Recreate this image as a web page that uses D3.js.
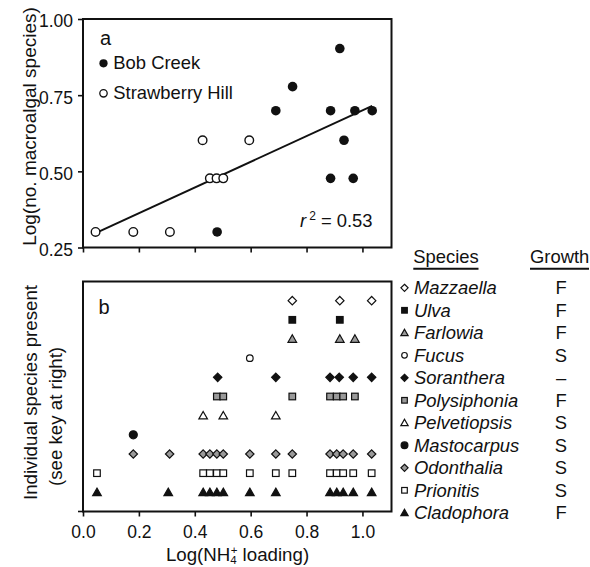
<!DOCTYPE html>
<html><head><meta charset="utf-8">
<script src="https://cdn.jsdelivr.net/npm/d3@7"></script>
<style>
body{margin:0;background:#fff;}
svg{display:block;font-family:"Liberation Sans",Arial,sans-serif;}
</style></head>
<body><svg id="c" width="590" height="567"></svg>
<script>
// ---------- Data ----------
// Panel a
const bobX = [0.48, 0.69, 0.75, 0.886, 0.919, 0.973, 1.035, 0.934, 0.886, 0.967];
const bobY = [0.301, 0.699, 0.778, 0.699, 0.903, 0.699, 0.699, 0.602, 0.477, 0.477];
const strawX = [0.045, 0.18, 0.311, 0.428, 0.595, 0.454, 0.478, 0.502];
const strawY = [0.301, 0.301, 0.301, 0.602, 0.602, 0.477, 0.477, 0.477];
const fitX = [0.045, 1.035];
const fitY = [0.297, 0.715];
const r2Label = "0.53";
const yTicksA = [0.25, 0.50, 0.75, 1.00];
const xTicks = [0.0, 0.2, 0.4, 0.6, 0.8, 1.0];

// Panel b: species (top to bottom), growth form, and sites where present
const species = ["Mazzaella","Ulva","Farlowia","Fucus","Soranthera","Polysiphonia","Pelvetiopsis","Mastocarpus","Odonthalia","Prionitis","Cladophora"];
const growth = ["F","F","F","S","\u2013","F","S","S","S","S","F"];
const presence = [
  [0.749, 0.919, 1.033],
  [0.749, 0.919],
  [0.749, 0.919, 0.973],
  [0.597],
  [0.482, 0.69, 0.884, 0.917, 0.967, 1.033],
  [0.479, 0.502, 0.749, 0.884, 0.908, 0.931, 0.973],
  [0.43, 0.502, 0.69],
  [0.18],
  [0.18, 0.31, 0.43, 0.454, 0.479, 0.502, 0.597, 0.69, 0.749, 0.884, 0.908, 0.931, 0.967, 1.033],
  [0.05, 0.43, 0.454, 0.479, 0.502, 0.597, 0.69, 0.749, 0.884, 0.908, 0.931, 0.967, 1.033],
  [0.05, 0.305, 0.43, 0.454, 0.479, 0.502, 0.597, 0.69, 0.884, 0.908, 0.931, 0.967, 1.033]
];

// ---------- Styles per species ----------
const INK = "#111";
const GRAY = "#9a9a9a";
const markStyle = {
  Mazzaella:   {shape:"diamond", fill:"#fff", stroke:INK},
  Ulva:        {shape:"square",  fill:INK,   stroke:INK},
  Farlowia:    {shape:"triangle",fill:GRAY,  stroke:INK},
  Fucus:       {shape:"circle",  fill:"#fff", stroke:INK},
  Soranthera:  {shape:"diamond", fill:INK,   stroke:INK},
  Polysiphonia:{shape:"square",  fill:GRAY,  stroke:INK},
  Pelvetiopsis:{shape:"triangle",fill:"#fff", stroke:INK},
  Mastocarpus: {shape:"circle",  fill:INK,   stroke:INK, big:true},
  Odonthalia:  {shape:"diamond", fill:GRAY,  stroke:INK},
  Prionitis:   {shape:"square",  fill:"#fff", stroke:INK},
  Cladophora:  {shape:"triangle",fill:INK,   stroke:INK}
};
function drawMark(g, st, x, y, k){
  k = k || 1;
  let el;
  if(st.shape==="circle"){
    el = g.append("circle").attr("cx",x).attr("cy",y).attr("r",(st.big?4:3.3)*k);
  } else if(st.shape==="square"){
    const s = 6.6*k;
    el = g.append("rect").attr("x",x-s/2).attr("y",y-s/2).attr("width",s).attr("height",s);
  } else if(st.shape==="diamond"){
    const h = 4.2*k;
    el = g.append("path").attr("d",`M${x},${y-h}L${x+h},${y}L${x},${y+h}L${x-h},${y}Z`);
  } else {
    const w = 4.3*k, t = 4.2*k, b = 3.3*k;
    el = g.append("path").attr("d",`M${x},${y-t}L${x+w},${y+b}L${x-w},${y+b}Z`);
  }
  el.attr("fill",st.fill).attr("stroke",st.stroke).attr("stroke-width",1.2);
}

// ---------- Layout ----------
const svg = d3.select("#c");
const X0 = 83, X1 = 391.5;
const A_TOP = 19, A_BOT = 247.5;
const B_TOP = 281.5, B_BOT = 511.5;
const x = d3.scaleLinear().domain([0, 1.104]).range([X0, X1]);
const yA = d3.scaleLinear().domain([0.25, 1.0]).range([A_BOT, A_TOP]);
const yB = d3.scaleLinear().domain([0, species.length + 1]).range([B_BOT, B_TOP]);

// ---------- Panel a ----------
const ga = svg.append("g");
const axAy = ga.append("g").attr("transform",`translate(${X0},0)`)
  .call(d3.axisLeft(yA).tickValues(yTicksA).tickFormat(d3.format(".2f")).tickSize(5).tickPadding(5));
const axAx = ga.append("g").attr("transform",`translate(0,${A_BOT})`)
  .call(d3.axisBottom(x).tickValues(xTicks).tickFormat("").tickSize(5));
[axAy, axAx].forEach(a=>{
  a.select(".domain").remove();
  a.selectAll("line").attr("stroke",INK).attr("stroke-width",1.6);
  a.selectAll("text").attr("fill",INK).style("font-size","17.5px").attr("font-family",null);
});
axAy.selectAll("text").attr("dy","0.45em");
ga.append("rect").attr("x",X0).attr("y",A_TOP).attr("width",X1-X0).attr("height",A_BOT-A_TOP)
  .attr("fill","none").attr("stroke",INK).attr("stroke-width",2);

ga.append("line").attr("x1",x(fitX[0])).attr("y1",yA(fitY[0])).attr("x2",x(fitX[1])).attr("y2",yA(fitY[1]))
  .attr("stroke",INK).attr("stroke-width",2);
ga.selectAll(".sh").data(strawX).join("circle")
  .attr("cx",(d)=>x(d)).attr("cy",(d,i)=>yA(strawY[i])).attr("r",4.3)
  .attr("fill","#fff").attr("stroke",INK).attr("stroke-width",1.4);
ga.selectAll(".bc").data(bobX).join("circle")
  .attr("cx",(d)=>x(d)).attr("cy",(d,i)=>yA(bobY[i])).attr("r",4.8)
  .attr("fill",INK);

ga.append("text").attr("x",100).attr("y",45).style("font-size","20px").attr("fill",INK).text("a");
ga.append("circle").attr("cx",103.5).attr("cy",63.3).attr("r",4.1).attr("fill",INK);
ga.append("text").attr("x",113.3).attr("y",68.5).style("font-size","18.4px").attr("fill",INK).text("Bob Creek");
ga.append("circle").attr("cx",103.5).attr("cy",93.3).attr("r",3.7).attr("fill","#fff").attr("stroke",INK).attr("stroke-width",1.3);
ga.append("text").attr("x",113.3).attr("y",99.3).style("font-size","18.4px").attr("fill",INK).text("Strawberry Hill");
const r2 = ga.append("text").attr("x",300).attr("y",226.5).style("font-size","18.4px").attr("fill",INK);
r2.append("tspan").style("font-style","italic").text("r");
r2.append("tspan").attr("dy",-7).attr("dx",3).style("font-size","12px").text("2");
r2.append("tspan").attr("dy",7).text(" = " + r2Label);

svg.append("text").attr("transform","translate(36,126.5) rotate(-90)").attr("text-anchor","middle")
  .style("font-size","19px").attr("fill",INK).text("Log(no. macroalgal species)");

// ---------- Panel b ----------
const gb = svg.append("g");
const axBx = gb.append("g").attr("transform",`translate(0,${B_BOT})`)
  .call(d3.axisBottom(x).tickValues(xTicks).tickFormat(d3.format(".1f")).tickSize(5).tickPadding(9));
axBx.select(".domain").remove();
axBx.selectAll("line").attr("stroke",INK).attr("stroke-width",1.6);
axBx.selectAll("text").attr("fill",INK).style("font-size","17.5px");
gb.append("line").attr("x1",X0-5).attr("x2",X0).attr("y1",B_BOT).attr("y2",B_BOT).attr("stroke",INK).attr("stroke-width",1.6);
gb.append("rect").attr("x",X0).attr("y",B_TOP).attr("width",X1-X0).attr("height",B_BOT-B_TOP)
  .attr("fill","none").attr("stroke",INK).attr("stroke-width",2);
gb.append("text").attr("x",98.5).attr("y",313.5).style("font-size","20px").attr("fill",INK).text("b");

species.forEach((sp,i)=>{
  const row = species.length - i;
  presence[i].forEach(v=>drawMark(gb, markStyle[sp], x(v), yB(row)));
});

// x title: Log(NH4+ loading) with stacked sub/superscript
const xt = svg.append("text").attr("x",237.5).attr("y",560.5).attr("text-anchor","middle")
  .style("font-size","18.7px").attr("fill",INK);
xt.append("tspan").text("Log(NH");
xt.append("tspan").attr("dy",3.5).style("font-size","11.5px").text("4");
xt.append("tspan").attr("dy",-10.5).attr("dx",-6).style("font-size","11.5px").text("+");
xt.append("tspan").attr("dy",7).text(" loading)");

svg.append("text").attr("transform","translate(37,392.5) rotate(-90)").attr("text-anchor","middle")
  .style("font-size","18.7px").attr("fill",INK).text("Individual species present");
svg.append("text").attr("transform","translate(62,416.5) rotate(-90)").attr("text-anchor","middle")
  .style("font-size","18.7px").attr("fill",INK).text("(see key at right)");

// ---------- Key ----------
const gk = svg.append("g");
gk.append("text").attr("x",413.3).attr("y",262.7).style("font-size","18.4px").attr("fill",INK).text("Species");
gk.append("line").attr("x1",413.3).attr("x2",478.5).attr("y1",268.7).attr("y2",268.7).attr("stroke",INK).attr("stroke-width",2);
gk.append("text").attr("x",530).attr("y",262.7).style("font-size","18.4px").attr("fill",INK).text("Growth");
gk.append("line").attr("x1",530).attr("x2",589).attr("y1",268.7).attr("y2",268.7).attr("stroke",INK).attr("stroke-width",2);
species.forEach((sp,i)=>{
  const base = 294.3 + i*22.5;
  drawMark(gk, markStyle[sp], 404.5, base-6.5, 0.85);
  gk.append("text").attr("x",414).attr("y",base).style("font-size","18.4px").style("font-style","italic").attr("fill",INK).text(sp);
  gk.append("text").attr("x",561).attr("y",base).attr("text-anchor","middle").style("font-size","18.4px").attr("fill",INK).text(growth[i]);
});
</script></body></html>
